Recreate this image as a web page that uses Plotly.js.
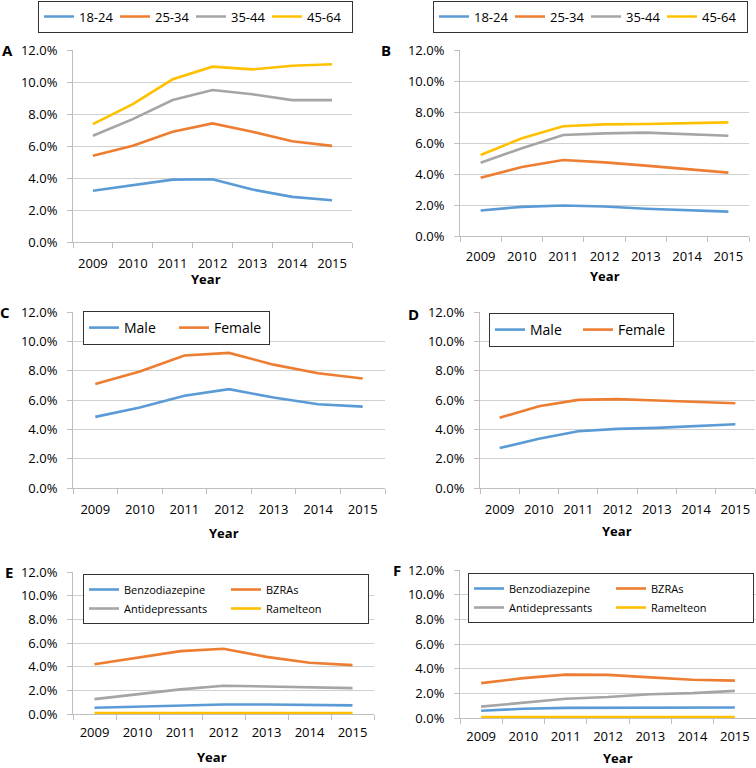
<!DOCTYPE html>
<html><head><meta charset="utf-8">
<script src="https://cdn.plot.ly/plotly-3.0.1.min.js"></script>
<style>
body{margin:0;background:#fff;width:756px;height:768px;overflow:hidden;}
.p{position:absolute;left:0;top:0;width:756px;height:768px;}
</style>
</head><body>
<div id="pA" class="p"></div>
<div id="pB" class="p"></div>
<div id="pC" class="p"></div>
<div id="pD" class="p"></div>
<div id="pE" class="p"></div>
<div id="pF" class="p"></div>
<script>
// ---- data (percent) ----
const years = ['2009','2010','2011','2012','2013','2014','2015'];

const ageLabels = ['18-24','25-34','35-44','45-64'];
const a18_24 = [3.20, 3.55, 3.90, 3.92, 3.28, 2.82, 2.61];
const a25_34 = [5.39, 6.01, 6.89, 7.41, 6.89, 6.30, 6.01];
const a35_44 = [6.64, 7.68, 8.87, 9.50, 9.23, 8.87, 8.87];
const a45_64 = [7.37, 8.62, 10.17, 10.96, 10.79, 11.02, 11.11];

const b18_24 = [1.65, 1.88, 1.97, 1.90, 1.76, 1.66, 1.57];
const b25_34 = [3.76, 4.45, 4.90, 4.75, 4.54, 4.30, 4.09];
const b35_44 = [4.73, 5.66, 6.52, 6.62, 6.67, 6.58, 6.47];
const b45_64 = [5.23, 6.30, 7.08, 7.20, 7.23, 7.27, 7.33];

const sexLabels = ['Male','Female'];
const cMale   = [4.85, 5.49, 6.29, 6.74, 6.17, 5.71, 5.55];
const cFemale = [7.09, 7.95, 9.03, 9.21, 8.41, 7.82, 7.47];
const dMale   = [2.72, 3.36, 3.87, 4.03, 4.10, 4.22, 4.35];
const dFemale = [4.79, 5.58, 6.01, 6.06, 5.97, 5.86, 5.78];

const drugLabels = ['Benzodiazepine','BZRAs','Antidepressants','Ramelteon'];
const eBenzo     = [0.53, 0.62, 0.74, 0.80, 0.80, 0.78, 0.73];
const eBZRA      = [4.21, 4.78, 5.31, 5.51, 4.83, 4.33, 4.13];
const eAntidep   = [1.26, 1.69, 2.08, 2.39, 2.33, 2.28, 2.19];
const eRamelteon = [0.07, 0.07, 0.07, 0.07, 0.07, 0.07, 0.07];
const fBenzo     = [0.59, 0.75, 0.82, 0.84, 0.85, 0.85, 0.85];
const fBZRA      = [2.83, 3.23, 3.52, 3.50, 3.29, 3.10, 3.03];
const fAntidep   = [0.92, 1.27, 1.56, 1.70, 1.92, 2.02, 2.20];
const fRamelteon = [0.07, 0.07, 0.07, 0.07, 0.07, 0.07, 0.07];

const panelLetters = ['A','B','C','D','E','F'];
const xTitle = 'Year';

// ---- styles ----
const COLORS = ['#5B9BD5','#ED7D31','#A5A5A5','#FFC000'];
const FONT = '"Open Sans", Lato, sans-serif';
const W = 756, H = 768;

function panel(id, letter, seriesList, names, g) {
  const traces = seriesList.map((s, i) => {
    const t = {
      type: 'scatter', mode: 'lines', x: years, y: s, name: names[i],
      line: {color: COLORS[i], width: 2.6}, hoverinfo: 'skip'
    };
    if (g.lastW && i === seriesList.length - 1) t.legendwidth = g.lastW;
    return t;
  });
  const pw = g.x1 - g.x0, ph = g.y1 - g.y0;
  const px = v => (v - g.x0) / pw;
  const py = v => (g.y1 - v) / ph;
  const layout = {
    width: W, height: H, autosize: false,
    margin: {l: g.x0, r: W - g.x1, t: g.y0, b: H - g.y1, pad: 0, autoexpand: false},
    paper_bgcolor: 'rgba(0,0,0,0)', plot_bgcolor: 'rgba(0,0,0,0)',
    font: {family: FONT, size: 13, color: '#000'},
    showlegend: true,
    xaxis: {
      type: 'category', range: [-0.5, 6.5], showgrid: false, zeroline: false,
      showline: true, linecolor: '#BFBFBF', linewidth: 1,
      ticks: 'outside', tickson: 'boundaries', ticklen: 5, tickcolor: '#BFBFBF',
      tickangle: 0, ticklabelstandoff: g.xs, tickfont: {size: 13}, fixedrange: true
    },
    yaxis: {
      range: [0, 12], tick0: 0, dtick: 2, tickformat: '.1f', ticksuffix: '%',
      showgrid: true, gridcolor: '#D0D0D0', zeroline: false,
      showline: true, linecolor: '#BFBFBF', linewidth: 1,
      ticks: 'outside', ticklen: 5, tickcolor: '#BFBFBF',
      ticklabelstandoff: 7, tickfont: {size: 13}, fixedrange: true
    },
    legend: {
      orientation: 'h', x: px(g.lx), y: py(g.ly), xanchor: 'left', yanchor: 'top',
      bordercolor: '#333', borderwidth: 1, bgcolor: '#fff',
      font: {size: g.lf, color: '#000'}, entrywidth: g.ew, entrywidthmode: 'pixels',
      itemwidth: 30, traceorder: 'normal'
    },
    annotations: [
      {text: '<b>' + letter + '</b>', xref: 'paper', yref: 'paper', x: px(g.ax), y: py(g.ay),
       xanchor: 'center', yanchor: 'middle', showarrow: false, font: {size: 15}},
      {text: '<b>' + xTitle + '</b>', xref: 'paper', yref: 'paper', x: px(g.tx), y: py(g.ty),
       xanchor: 'center', yanchor: 'middle', showarrow: false, font: {size: 13}}
    ]
  };
  Plotly.newPlot(id, traces, layout, {staticPlot: true, displayModeBar: false});
}

panel('pA', panelLetters[0], [a18_24, a25_34, a35_44, a45_64], ageLabels,
  {x0: 73, x1: 352, y0: 50, y1: 242, ax: 7, ay: 50, tx: 206, ty: 279, xs: 9,
   lx: 38, ly: 0.5, lf: 13, ew: 31, lastW: 40});
panel('pB', panelLetters[1], [b18_24, b25_34, b35_44, b45_64], ageLabels,
  {x0: 460, x1: 749, y0: 50, y1: 236, ax: 386, ay: 50, tx: 605, ty: 276, xs: 8,
   lx: 433, ly: 0.5, lf: 13, ew: 31, lastW: 40});
panel('pC', panelLetters[2], [cMale, cFemale], sexLabels,
  {x0: 73, x1: 385, y0: 312, y1: 488, ax: 5, ay: 312, tx: 224, ty: 533, xs: 9,
   lx: 83, ly: 311, lf: 14, ew: 45, lastW: 50});
panel('pD', panelLetters[3], [dMale, dFemale], sexLabels,
  {x0: 480, x1: 755, y0: 312, y1: 488, ax: 413, ay: 314, tx: 617, ty: 531, xs: 9,
   lx: 489, ly: 313, lf: 14, ew: 43, lastW: 50});
panel('pE', panelLetters[4], [eBenzo, eBZRA, eAntidep, eRamelteon], drugLabels,
  {x0: 73, x1: 374, y0: 572, y1: 714, ax: 9, ay: 572, tx: 212, ty: 757, xs: 6,
   lx: 83, ly: 574, lf: 11, ew: 97, lastW: 0});
panel('pF', panelLetters[5], [fBenzo, fBZRA, fAntidep, fRamelteon], drugLabels,
  {x0: 460, x1: 756, y0: 570, y1: 718, ax: 397, ay: 570, tx: 618, ty: 758, xs: 6,
   lx: 468, ly: 573, lf: 11, ew: 97, lastW: 0});
</script>
</body></html>
